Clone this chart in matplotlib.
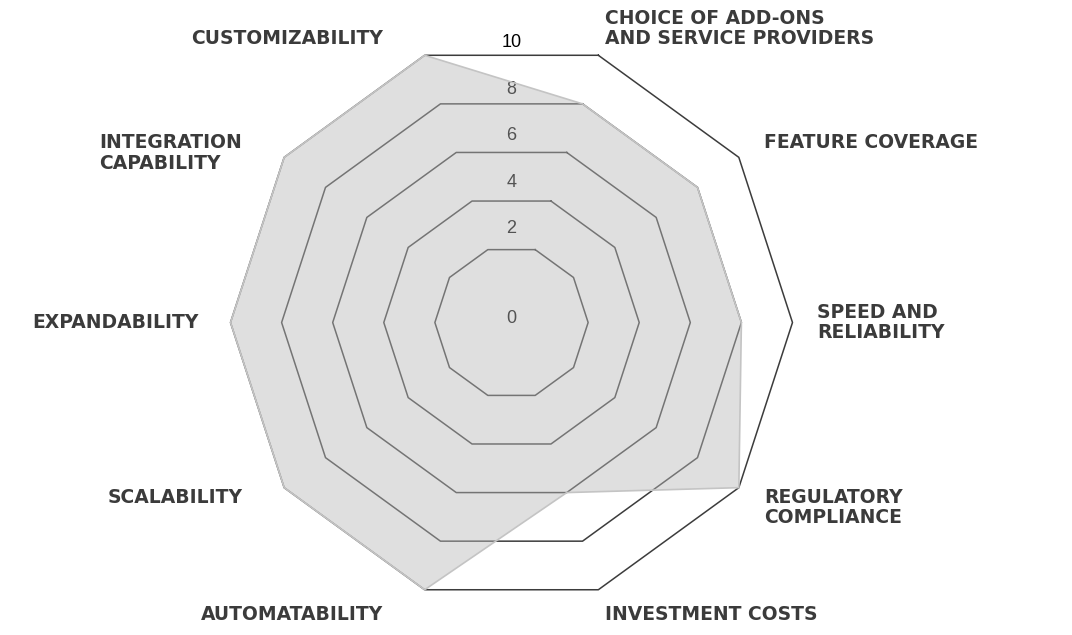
import numpy as np
import matplotlib.pyplot as plt

categories = [
    "CHOICE OF ADD-ONS\nAND SERVICE PROVIDERS",
    "FEATURE COVERAGE",
    "SPEED AND\nRELIABILITY",
    "REGULATORY\nCOMPLIANCE",
    "INVESTMENT COSTS",
    "AUTOMATABILITY",
    "SCALABILITY",
    "EXPANDABILITY",
    "INTEGRATION\nCAPABILITY",
    "CUSTOMIZABILITY",
]
scores = [8, 8, 8, 10, 6, 10, 10, 10, 10, 10]
ticks = [0, 2, 4, 6, 8, 10]

n = len(categories)
theta = np.deg2rad(18 + 36 * np.arange(n))
theta_closed = np.append(theta, theta[0])

fig = plt.figure(figsize=(10.72, 6.35), dpi=100)
ax = fig.add_axes([0.2150, 0.0496, 0.5243, 0.8850], projection="polar")
ax.set_theta_zero_location("N")
ax.set_theta_direction(-1)
ax.set_ylim(-1, 10)
ax.axis("off")

# polygon grid rings (no ring drawn at 0)
for t in ticks[1:]:
    ax.plot(theta_closed, [t] * (n + 1), color="#3c3c3c", lw=1.1,
            zorder=1, clip_on=False)

# tick labels sit under the translucent fill
for t in ticks:
    r = -0.85 if t == 0 else 0.86 + 0.91 * t
    ax.text(0, r, str(t), ha="center", va="center", fontsize=13,
            family="Liberation Sans", color="black", zorder=2)

ax.fill(theta_closed, scores + [scores[0]],
        facecolor=(0.73, 0.73, 0.73, 0.45), edgecolor="#c4c4c4",
        lw=1.2, zorder=3, clip_on=False)

# category labels outside the outer ring
for ang, lab in zip(theta, categories):
    s, c = np.sin(ang), np.cos(ang)
    if s > 0:
        ha, dx = "left", (7 if s < 0.5 else 25)
    else:
        ha, dx = "right", (-32 if s < -0.99 else -42)
    if c > 0.9:
        va, dy = "bottom", 7
    elif c > 0.3:
        va, dy = "top", 24
    elif c > -0.3:
        va, dy = "center", 0
    elif c > -0.9:
        va, dy = "top", 0
    else:
        va, dy = "top", -15
    ax.annotate(lab, xy=(ang, 10), xytext=(dx, dy), textcoords="offset pixels",
                ha=ha, va=va, multialignment="left", fontsize=13.5,
                fontweight="bold", family="DejaVu Sans", color="#3b3b3b",
                linespacing=1.1, annotation_clip=False)

fig.savefig("out.png", dpi=100)
